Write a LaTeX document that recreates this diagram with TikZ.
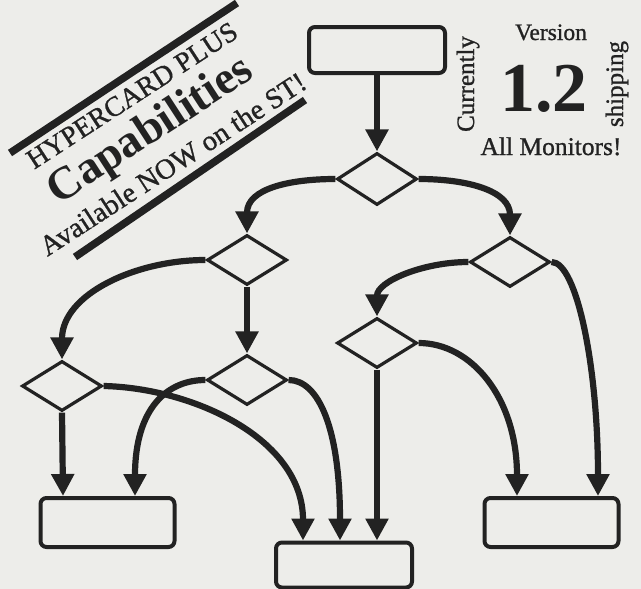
\documentclass[tikz,border=0pt]{standalone}
\usepackage{fontspec}
\setmainfont{Liberation Serif}
\newfontfamily\heavy{Liberation Serif}[FakeBold=1.0]
\usetikzlibrary{shapes.geometric,arrows.meta}
\definecolor{bg}{RGB}{237,237,234}
\definecolor{ink}{RGB}{34,34,34}
\begin{document}
\begin{tikzpicture}[x=1pt,y=-1pt,
  dia/.style={diamond, draw=ink, line width=3.2pt, minimum width=80pt, minimum height=50pt, inner sep=0pt},
  card/.style={rectangle, rounded corners=6pt, draw=ink, line width=4pt, minimum width=134pt, minimum height=47pt, inner sep=0pt},
  flow/.style={draw=ink, line width=6.2pt, -{Triangle[width=22pt,length=22pt]}},
  bar/.style={draw=ink, line width=7.5pt, line cap=butt},
  ban/.style={text=ink, rotate=33, anchor=base, inner sep=0pt},
  txt/.style={text=ink, inner sep=0pt, anchor=base}]
\fill[bg] (0,0) rectangle (641,589);
\useasboundingbox (0,0) rectangle (641,589);

% banner
\draw[bar] (10,153) -- (237,3);
\draw[bar] (75,257) -- (305,100);
\node[ban, font=\heavy\fontsize{28}{30}\selectfont] (hp) at (137,103) {HYPERCARD PLUS};
\node[ban, font=\fontsize{46}{48}\selectfont\bfseries] (cap) at (157,141) {Capabilities};
\node[ban, font=\heavy\fontsize{28.5}{30}\selectfont] (av) at (178,172) {Available NOW on the ST!};

% version block
\node[txt, font=\heavy\fontsize{23.5}{25}\selectfont] (ver) at (551,40) {Version};
\node[txt, font=\fontsize{70}{72}\selectfont\bfseries] (num) at (544,111) {1.2};
\node[txt, font=\heavy\fontsize{25.5}{27}\selectfont] (mon) at (551,155) {All Monitors!};
\node[txt, rotate=90, font=\heavy\fontsize{25}{27}\selectfont] (cur) at (474,84) {Currently};
\node[txt, rotate=90, font=\heavy\fontsize{25}{27}\selectfont] (ship) at (623,84) {shipping};

% boxes
\node[card, minimum width=136pt, minimum height=46pt] (top) at (377,50) {};
\node[card, minimum height=49pt] (b1) at (107.5,522.5) {};
\node[card, minimum width=136pt, minimum height=45pt] (b2) at (344,565) {};
\node[card, minimum height=49pt] (b3) at (551.5,522.5) {};

% decisions
\node[dia, minimum height=52pt] (d1) at (377,179) {};
\node[dia] (d2) at (510,262) {};
\node[dia] (d3) at (247,260) {};
\node[dia] (d4) at (62,386) {};
\node[dia] (d5) at (247,380) {};
\node[dia] (d6) at (377,343) {};

% connectors
\draw[flow] (top.south) -- (d1.north);
\draw[flow] (d1.west) .. controls +(-45,0) and +(0,-45) .. (d3.north);
\draw[flow] (d1.east) .. controls +(48,0) and +(0,-45) .. (d2.north);
\draw[flow] (d3.west) .. controls +(-70,0) and +(0,-65) .. (d4.north);
\draw[flow] (d3.south) -- (d5.north);
\draw[flow] (d2.west) .. controls +(-45,0) and +(0,-35) .. (d6.north);
\draw[flow] (d2.east) .. controls +(25,0) and +(0,-130) .. ([xshift=46.5pt]b3.north);
\draw[flow] (d6.east) .. controls +(53,0) and +(0,-98) .. ([xshift=-34.5pt]b3.north);
\draw[flow] (d6.south) -- ([xshift=33pt]b2.north);
\draw[flow] (d5.east) .. controls +(30,0) and +(0,-112) .. ([xshift=-4pt]b2.north);
\draw[flow] (d5.west) .. controls +(-38,0) and +(0,-88) .. ([xshift=27.5pt]b1.north);
\draw[flow] (d4.south) -- ([xshift=-44.5pt]b1.north);
\draw[flow] (d4.east) .. controls +(89,2) and +(0,-102) .. ([xshift=-41pt]b2.north);
\end{tikzpicture}
\end{document}
